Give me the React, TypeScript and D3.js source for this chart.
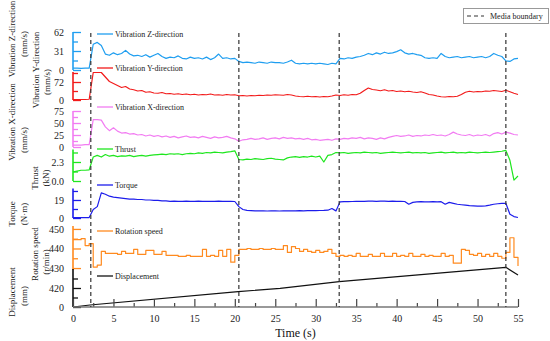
import * as d3 from 'd3';
import { useEffect, useRef } from 'react';

// time axis (s), 0.5 s sampling
const time = [
  0, 0.5, 1, 1.5, 2, 2.5, 3, 3.5, 4, 4.5,
  5, 5.5, 6, 6.5, 7, 7.5, 8, 8.5, 9, 9.5,
  10, 10.5, 11, 11.5, 12, 12.5, 13, 13.5, 14, 14.5,
  15, 15.5, 16, 16.5, 17, 17.5, 18, 18.5, 19, 19.5,
  20, 20.5, 21, 21.5, 22, 22.5, 23, 23.5, 24, 24.5,
  25, 25.5, 26, 26.5, 27, 27.5, 28, 28.5, 29, 29.5,
  30, 30.5, 31, 31.5, 32, 32.5, 33, 33.5, 34, 34.5,
  35, 35.5, 36, 36.5, 37, 37.5, 38, 38.5, 39, 39.5,
  40, 40.5, 41, 41.5, 42, 42.5, 43, 43.5, 44, 44.5,
  45, 45.5, 46, 46.5, 47, 47.5, 48, 48.5, 49, 49.5,
  50, 50.5, 51, 51.5, 52, 52.5, 53, 53.5, 54, 54.5,
  55,
];

const vibZ = [
  3, 3, 2.5, 3, 3, 42, 45, 40, 26, 24,
  28, 25, 27, 32, 26, 23, 24, 22, 25, 21,
  24, 27, 22, 19, 21, 20, 23, 19, 18, 21,
  19, 20, 18, 21, 17, 20, 26, 19, 20, 18,
  19, 14, 12, 13, 12, 11, 13, 12, 11, 13,
  12, 12, 11, 13, 16, 11, 10, 11, 10, 11,
  10, 11, 10, 9, 11, 10, 19, 18, 20, 19,
  21, 22, 24, 27, 25, 28, 26, 29, 27, 28,
  30, 33, 28, 26, 27, 25, 24, 20, 19, 20,
  19, 27, 22, 20, 21, 22, 20, 21, 22, 20,
  21, 22, 20, 22, 27, 24, 22, 15, 14, 18,
  19,
];

const vibY = [
  2, 2, 2, 2, 3, 110, 110, 110, 92, 74,
  66, 58, 50, 54, 44, 41, 36, 38, 31, 33,
  28, 27, 30, 25, 26, 23, 25, 22, 24, 21,
  23, 20, 22, 21, 24, 20, 21, 19, 22, 20,
  21, 17, 18, 16, 18, 17, 19, 18, 20, 19,
  21, 20, 19, 22, 20, 16, 14, 13, 15, 13,
  14, 12, 14, 13, 16, 20, 18, 21, 19, 22,
  21, 27, 38, 48, 42, 40, 37, 41, 36, 38,
  34, 36, 33, 35, 32, 30, 33, 28, 22, 20,
  16, 13, 12, 14, 13, 15, 22, 31, 35, 32,
  34, 33, 36, 35, 38, 36, 34, 39, 33, 27,
  22,
];

const vibX = [
  4, 4, 4, 5, 5, 57, 57, 56, 42, 34,
  40, 33, 29, 30, 27, 28, 25, 26, 23, 25,
  22, 24, 21, 23, 20, 22, 19, 21, 23, 20,
  21, 19, 22, 20, 18, 21, 19, 20, 22, 19,
  17, 12, 15, 16, 18, 16, 17, 19, 16, 18,
  19, 17, 20, 18, 19, 17, 18, 16, 18, 15,
  16, 14, 15, 16, 14, 17, 16, 18, 17, 19,
  18, 20, 17, 19, 18, 16, 19, 17, 20, 22,
  24, 22, 23, 25, 22, 24, 23, 25, 24, 26,
  24, 25, 23, 26, 31, 27, 25, 24, 26, 23,
  25, 24, 26, 23, 28, 30, 27, 31, 29, 26,
  25,
];

const thrust = [
  1.1, 1.2, 1.3, 1.3, 1.35, 2.9, 3.1, 2.9, 3.2, 3.0,
  3.1, 2.95, 3.05, 3.0, 3.1, 2.95, 3.05, 3.1, 3.0, 3.1,
  3.15, 3.2, 3.25, 3.2, 3.3, 3.25, 3.3, 3.2, 3.3, 3.35,
  3.3, 3.4, 3.35, 3.45, 3.4, 3.5, 3.45, 3.4, 3.5, 3.55,
  3.65, 2.6, 2.55, 2.65, 2.6, 2.7, 2.65, 2.6, 2.7, 2.75,
  2.65, 2.6, 2.55, 2.8, 2.9, 2.95, 2.85, 2.95, 2.9, 3.0,
  2.9, 3.0, 2.3, 3.1, 3.2, 3.45, 3.4, 3.45, 3.35, 3.4,
  3.45, 3.4, 3.5, 3.45, 3.4, 3.45, 3.35, 3.4, 3.45, 3.5,
  3.45, 3.4, 3.45, 3.5, 3.4, 3.45, 3.4, 3.45, 3.35, 3.4,
  3.45, 3.5, 3.4, 3.45, 3.5, 3.4, 3.45, 3.4, 3.5, 3.45,
  3.4, 3.45, 3.5, 3.45, 3.5, 3.55, 3.6, 3.7, 2.5, 0.1,
  0.6,
];

const torque = [
  0.5, 0.5, 0.5, 0.5, 0.5, 9, 12, 26.5, 25, 23,
  22, 21.5, 21, 20.5, 20, 20, 19.5, 19.5, 19, 19,
  18.5, 18.5, 18, 18, 17.5, 17.8, 17.5, 17.5, 17.8, 17.5,
  17.5, 17.8, 17.5, 17.5, 17.6, 17.5, 17.8, 17.5, 17.5, 17.6,
  17.4, 12, 9, 8, 7.8, 7.5, 7.6, 7.5, 7.4, 7.5,
  7.5, 7.4, 7.6, 7.5, 7.5, 7.6, 7.7, 7.6, 7.8, 7.7,
  7.8, 7.9, 8, 8.2, 10, 7.5, 17, 17.2, 17.3, 17.4,
  17.5, 17.6, 17.5, 17.7, 17.8, 17.6, 17.7, 17.8, 17.6, 17.7,
  17.6, 17.5, 17.4, 14.5, 16.5, 17, 17.2, 17, 17.1, 17.3,
  17, 17.2, 14.5, 16.5, 15.5, 14.5, 14, 13.5, 13, 12.8,
  12.5, 12.6, 12.8, 13.5, 14.5, 15, 15.5, 15.5, 4, 1.5,
  0.5,
];

const rotSpeed = [
  444.5, 444.5, 445, 441.5, 442.5, 430.5, 431.5, 438.5, 437.5, 437.5,
  437.5, 437, 438.5, 437.5, 437.5, 439.5, 437, 437, 439, 439,
  437, 437, 438.5, 436.5, 436.5, 436.5, 436, 436, 436.5, 436,
  436, 436, 439.5, 436, 436.5, 436, 439, 436, 439.5, 433,
  436.5, 439.5, 439.5, 440, 439.5, 439.5, 440, 439.5, 439.5, 440,
  439.5, 439.5, 441.5, 438, 441, 440, 438.5, 439.5, 438.5, 438,
  439, 438, 438.5, 439.5, 437.5, 436, 436.5, 436, 436.5, 436,
  437.5, 436, 436, 437, 436, 436, 437.5, 436, 436, 437.5,
  436, 436.5, 436, 437.5, 436, 436, 437, 436, 436.5, 436,
  436, 437.5, 436, 436.5, 432.5, 432.5, 439.5, 439, 437, 436.5,
  437.5, 436, 437, 436, 437.5, 436, 435, 438, 445.5, 435.5,
  431,
];

const dispTime = [0, 2.1, 20.4, 25.6, 32.9, 53.5, 55];
const displacement = [0, 44, 338, 413, 559, 877, 707];

const boundaries = [2.2, 20.5, 32.9, 53.5];

const xMajor = [0, 5, 10, 15, 20, 25, 30, 35, 40, 45, 50, 55];
const xMinor = [2.5, 7.5, 12.5, 17.5, 22.5, 27.5, 32.5, 37.5, 42.5, 47.5, 52.5];

const FONT = 'Liberation Serif, Times New Roman, serif';

const panels = [
  {
    values: vibZ, times: time, domain: [0, 62], range: [70, 32],
    minor: [15.5, 46.5], major: [0, 31, 62], fmt: (d: number) => `${d}`,
    color: '#1f9ef0', legend: 'Vibration Z-direction', legendY: 34,
    title: ['Vibration Z-direction', '(mm/s)'], titlePos: [[12, 39], [24, 44]],
  },
  {
    values: vibY, times: time, domain: [0, 112], range: [100, 72],
    minor: [36, 108], major: [0, 72], fmt: (d: number) => `${d}`,
    color: '#f21b1b', legend: 'Vibration Y-direction', legendY: 68,
    title: ['Vibration Y-direction', '(mm/s)'], titlePos: [[36, 70], [47, 82]],
  },
  {
    values: vibX, times: time, domain: [0, 75], range: [147, 111],
    minor: [12.5, 37.5, 62.5], major: [0, 25, 50, 75], fmt: (d: number) => `${d}`,
    color: '#f27cf2', legend: 'Vibration X-direction', legendY: 107,
    title: ['Vibration X-direction', '(mm/s)'], titlePos: [[12, 122], [24, 140]],
  },
  {
    values: thrust, times: time, domain: [0, 3.8], range: [181, 149.6],
    minor: [1.15, 3.45], major: [0, 2.3], fmt: (d: number) => d.toFixed(1),
    color: '#1ee61e', legend: 'Thrust', legendY: 149,
    title: ['Thrust', '(kN)'], titlePos: [[35, 178], [46, 178]],
  },
  {
    values: torque, times: time, domain: [0, 31], range: [218, 188.6],
    minor: [9.5, 28.5], major: [0, 19], fmt: (d: number) => `${d}`,
    color: '#1c1ceb', legend: 'Torque', legendY: 185,
    title: ['Torque', '(N\u00b7m)'], titlePos: [[12, 214], [24, 214]],
  },
  {
    values: rotSpeed, times: time, domain: [429, 451.5], range: [270, 226],
    minor: [435, 445], major: [430, 440, 450], fmt: (d: number) => `${d}`,
    color: '#ff8a1f', legend: 'Rotation speed', legendY: 231, step: true,
    title: ['Rotation speed', '(r/min)'], titlePos: [[35, 254], [46, 262]],
  },
  {
    values: displacement, times: dispTime, domain: [0, 840], range: [307, 269],
    minor: [210, 630], major: [0, 420], fmt: (d: number) => `${d}`,
    color: '#111111', legend: 'Displacement', legendY: 276,
    title: ['Displacement', '(mm)'], titlePos: [[12, 292], [24, 296]],
  },
];

const drawChart = (container: SVGSVGElement) => {
  const svg = d3.select(container);
  svg.selectAll('*').remove();

  const left = 73;
  const right = 518;
  const axisY = 307;
  const x = d3.scaleLinear().domain([0, 55]).range([left, right]);

  panels.forEach(p => {
    const y = d3.scaleLinear().domain(p.domain).range(p.range);

    const minorAxis = d3.axisLeft(y).tickValues(p.minor).tickSize(-5).tickFormat(() => '');
    const majorAxis = d3.axisLeft(y).tickValues(p.major).tickSize(-8).tickPadding(9)
      .tickFormat(d => p.fmt(d as number));

    const gMin = svg.append('g').attr('transform', `translate(${left},0)`).call(minorAxis);
    const gMaj = svg.append('g').attr('transform', `translate(${left},0)`).call(majorAxis);
    [gMin, gMaj].forEach(g => {
      g.select('.domain').remove();
      g.selectAll('line').attr('stroke', p.color).attr('stroke-width', 1.3);
      g.attr('font-family', FONT).attr('font-size', 10);
      g.selectAll('text').attr('fill', '#222');
    });

    svg.append('line')
      .attr('x1', left).attr('x2', left)
      .attr('y1', p.range[0]).attr('y2', p.range[1])
      .attr('stroke', p.color).attr('stroke-width', 1.6);

    const line = d3.line<number>()
      .x((d, i) => x(p.times[i]))
      .y(d => y(d))
      .curve(p.step ? d3.curveStepAfter : d3.curveLinear);

    svg.append('path')
      .attr('fill', 'none')
      .attr('stroke', p.color)
      .attr('stroke-width', 1.2)
      .attr('stroke-linejoin', 'round')
      .attr('d', line(p.values));

    // legend entry
    svg.append('line')
      .attr('x1', 97).attr('x2', 113)
      .attr('y1', p.legendY).attr('y2', p.legendY)
      .attr('stroke', p.color).attr('stroke-width', 1.3);
    svg.append('text')
      .attr('x', 115).attr('y', p.legendY)
      .attr('dy', '0.35em')
      .attr('font-family', FONT).attr('font-size', 8)
      .attr('fill', '#222')
      .text(p.legend);

    // rotated axis title (two lines)
    p.title.forEach((t, k) => {
      const [tx, ty] = p.titlePos[k];
      svg.append('text')
        .attr('transform', `translate(${tx},${ty}) rotate(-90)`)
        .attr('text-anchor', 'middle')
        .attr('dy', '0.35em')
        .attr('font-family', FONT).attr('font-size', 9)
        .attr('fill', '#222')
        .text(t);
    });
  });

  // time axis
  const xMinorAxis = d3.axisBottom(x).tickValues(xMinor).tickSize(-4).tickFormat(() => '');
  const xMajorAxis = d3.axisBottom(x).tickValues(xMajor).tickSize(-8).tickPadding(8)
    .tickFormat(d => `${d}`);
  const gx1 = svg.append('g').attr('transform', `translate(0,${axisY})`).call(xMinorAxis);
  const gx2 = svg.append('g').attr('transform', `translate(0,${axisY})`).call(xMajorAxis);
  [gx1, gx2].forEach(g => {
    g.select('.domain').remove();
    g.selectAll('line').attr('stroke', '#444').attr('stroke-width', 1.2);
    g.attr('font-family', FONT).attr('font-size', 10);
    g.selectAll('text').attr('fill', '#222');
  });
  svg.append('line')
    .attr('x1', left).attr('x2', right)
    .attr('y1', axisY).attr('y2', axisY)
    .attr('stroke', '#777').attr('stroke-width', 1.6);

  svg.append('text')
    .attr('x', (left + right) / 2).attr('y', 337)
    .attr('text-anchor', 'middle')
    .attr('font-family', FONT).attr('font-size', 12)
    .attr('fill', '#111')
    .text('Time (s)');

  // media boundaries
  boundaries.forEach(b => {
    svg.append('line')
      .attr('x1', x(b)).attr('x2', x(b))
      .attr('y1', 33).attr('y2', axisY)
      .attr('stroke', '#333').attr('stroke-width', 1.2)
      .attr('stroke-dasharray', '4,3');
  });

  // boundary legend box
  svg.append('rect')
    .attr('x', 463.5).attr('y', 8.5).attr('width', 85).attr('height', 15)
    .attr('fill', '#fff').attr('stroke', '#999').attr('stroke-width', 1);
  svg.append('line')
    .attr('x1', 467).attr('x2', 484).attr('y1', 16).attr('y2', 16)
    .attr('stroke', '#333').attr('stroke-width', 1.2).attr('stroke-dasharray', '4,3');
  svg.append('text')
    .attr('x', 490).attr('y', 16).attr('dy', '0.35em')
    .attr('font-family', FONT).attr('font-size', 8)
    .attr('fill', '#222')
    .text('Media boundary');

  return svg.node();
};

export default function App() {
  const ref = useRef<SVGSVGElement>(null);
  useEffect(() => {
    if (ref.current) {
      drawChart(ref.current);
    }
    return () => {
      d3.select(ref.current).selectAll('*').remove();
    };
  }, [ref]);
  return (
    <svg
      ref={ref}
      width={550}
      height={341}
      viewBox="0 0 550 341"
      style={{ position: 'absolute', left: 0, top: 0, background: '#fff' }}
    />
  );
}
